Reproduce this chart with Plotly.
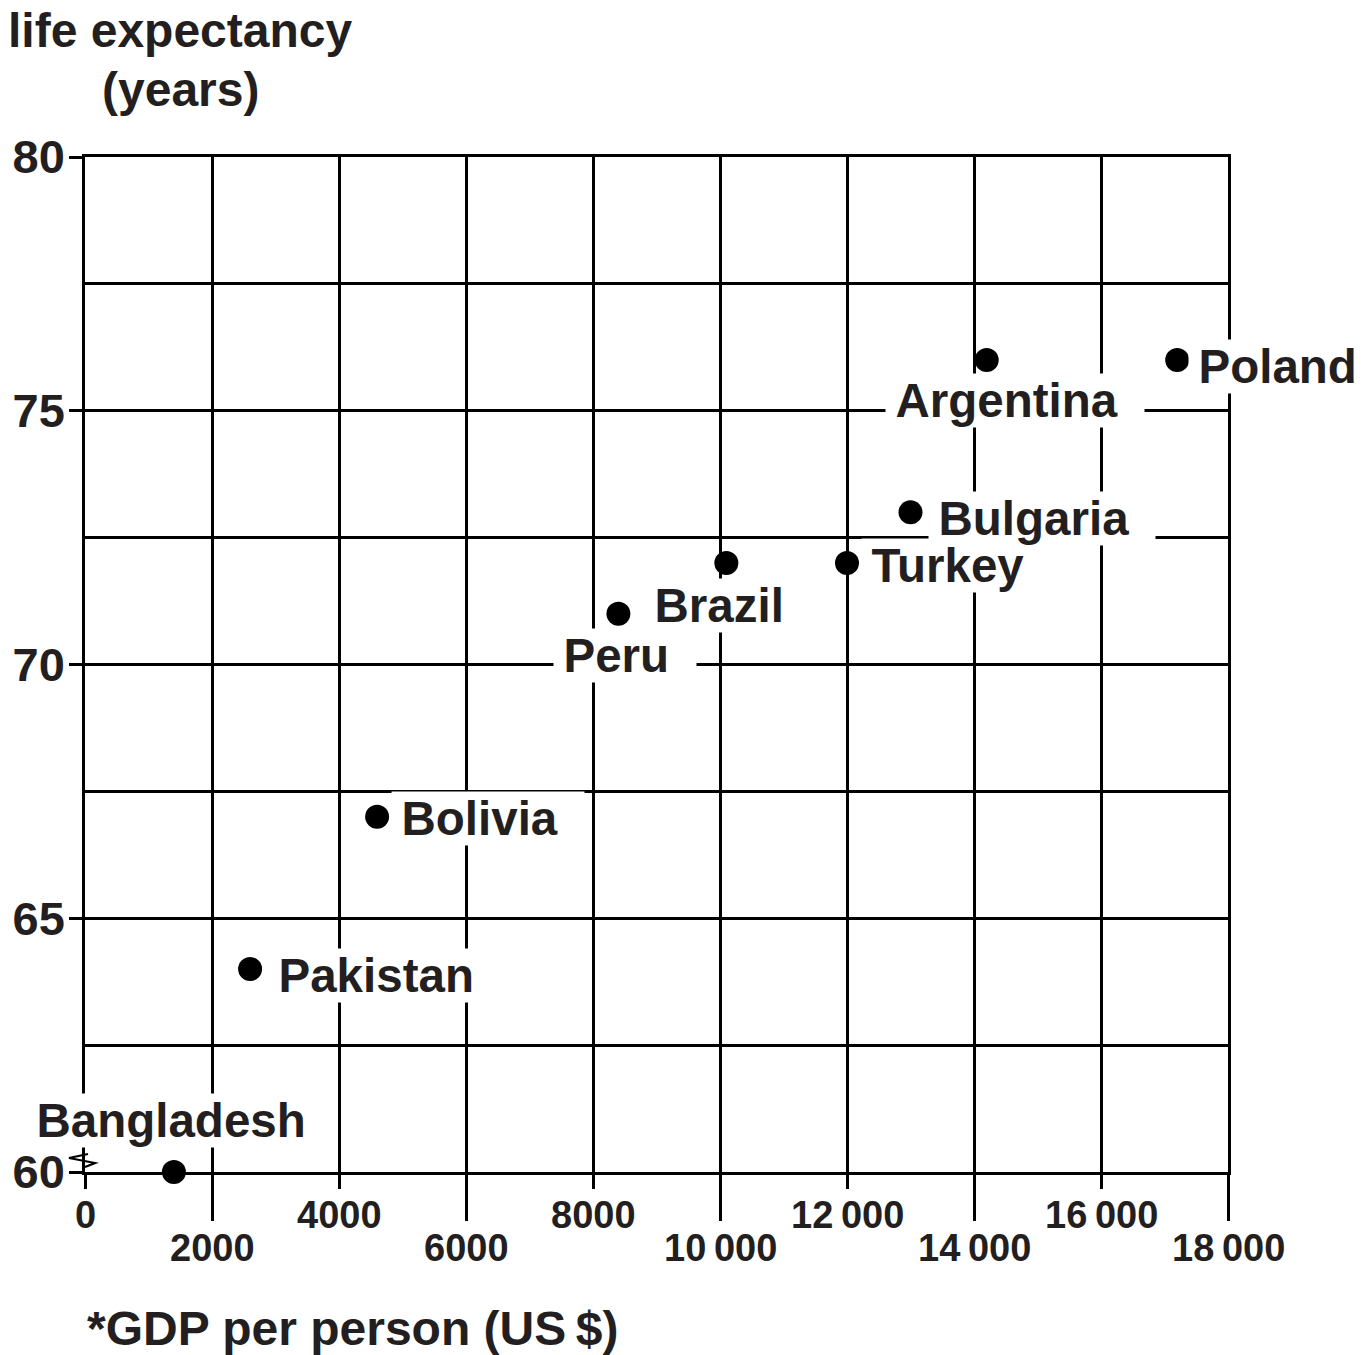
import plotly.graph_objects as go

countries = ["Bangladesh", "Pakistan", "Bolivia", "Peru", "Brazil", "Turkey", "Bulgaria", "Argentina", "Poland"]
gdp = [1400, 2600, 4600, 8400, 10100, 12000, 13000, 14200, 17200]
life = [60, 64, 67, 71, 72, 72, 73, 76, 76]

# label offsets in pixels relative to each point (text left edge, vertical centre)
label_dx = [-139, 27, 23, -56, -73, 23, 26, -93, 20]
label_dy = [52, -6, -2, -42, -42, -2, -6, -40, -6]
label_trail = [2, 2, 2, 2, 2, 2, 2, 2, 0]  # extra white padding (nbsp count) right of label

x_ticks = [0, 2000, 4000, 6000, 8000, 10000, 12000, 14000, 16000, 18000]
x_tick_labels = ["0", "2000", "4000", "6000", "8000", "10\u2009000", "12\u2009000", "14\u2009000", "16\u2009000", "18\u2009000"]
y_ticks = [60, 65, 70, 75, 80]
y_minor = [62.5, 67.5, 72.5, 77.5]

TXT = "#231f20"
FONT = "Liberation Sans, Arial, sans-serif"
LW = 2.5
LEAD = 9  # width of the leading thin space

fig = go.Figure()
fig.add_trace(go.Scatter(x=gdp, y=life, mode="markers",
                         marker=dict(size=24, color="black"),
                         cliponaxis=False, hoverinfo="skip"))

for name, xv, yv, dx, dy, tr in zip(countries, gdp, life, label_dx, label_dy, label_trail):
    fig.add_annotation(x=xv, y=yv, xref="x", yref="y", text="\u2009" + name + "\u00a0" * tr,
                       showarrow=False, xanchor="left", yanchor="middle",
                       xshift=dx - LEAD, yshift=dy, bgcolor="white", borderpad=0,
                       font=dict(family=FONT, size=47.5, color=TXT, weight="bold"))

for i, (tv, tl) in enumerate(zip(x_ticks, x_tick_labels)):
    fig.add_annotation(x=tv, y=0, xref="x", yref="paper", text=tl, showarrow=False,
                       xanchor="center", yanchor="middle",
                       yshift=-43 if i % 2 == 0 else -76,
                       font=dict(family=FONT, size=38, color=TXT, weight="bold"))

for line, ypix in (("life expectancy", 31), ("(years)", 89)):
    fig.add_annotation(x=(180 - 85) / 1143, y=(1172 - ypix) / 1015, xref="paper", yref="paper",
                       text=line, showarrow=False, align="center",
                       xanchor="center", yanchor="middle",
                       font=dict(family=FONT, size=48, color=TXT, weight="bold"))
fig.add_annotation(x=0, y=(1172 - 1328) / 1015, xref="paper", yref="paper",
                   text="*GDP per person (US\u2009$)", showarrow=False,
                   xanchor="left", yanchor="middle",
                   font=dict(family=FONT, size=48, color=TXT, weight="bold"))

# broken-axis zigzag
fig.add_shape(type="path", xref="paper", yref="paper", xsizemode="pixel", ysizemode="pixel",
              xanchor=0, yanchor=0, path="M 3,18 L -16,14 L 10,9 L 0,5",
              line=dict(color="black", width=2.2))

fig.update_xaxes(range=[0, 18000], tickvals=[v for i, v in enumerate(x_ticks) if i % 2 == 0],
                 showticklabels=False, ticks="outside", ticklen=14, tickwidth=LW, tickcolor="black",
                 showgrid=True, gridcolor="black", gridwidth=LW, zeroline=False, automargin=False,
                 showline=True, linecolor="black", linewidth=LW, mirror=True,
                 minor=dict(tickvals=[v for i, v in enumerate(x_ticks) if i % 2 == 1],
                            ticks="outside", ticklen=46, tickwidth=LW, tickcolor="black",
                            showgrid=True, gridcolor="black", gridwidth=LW))
fig.update_yaxes(range=[60, 80], tickvals=y_ticks, ticktext=[str(v) for v in y_ticks],
                 ticks="outside", ticklen=13, tickwidth=LW, tickcolor="black",
                 ticklabelstandoff=-5, automargin=False,
                 tickfont=dict(family=FONT, size=47, color=TXT, weight="bold"),
                 showgrid=True, gridcolor="black", gridwidth=LW, zeroline=False,
                 showline=True, linecolor="black", linewidth=LW, mirror=True,
                 minor=dict(tickvals=y_minor, ticks="", showgrid=True, gridcolor="black", gridwidth=LW))

# the page body adds an 8px margin, so the figure is 8px smaller and margins shifted
fig.update_layout(width=1363, height=1347, margin=dict(l=77, r=143, t=149, b=183),
                  plot_bgcolor="white", paper_bgcolor="white", showlegend=False)

fig.write_html("out.html")
